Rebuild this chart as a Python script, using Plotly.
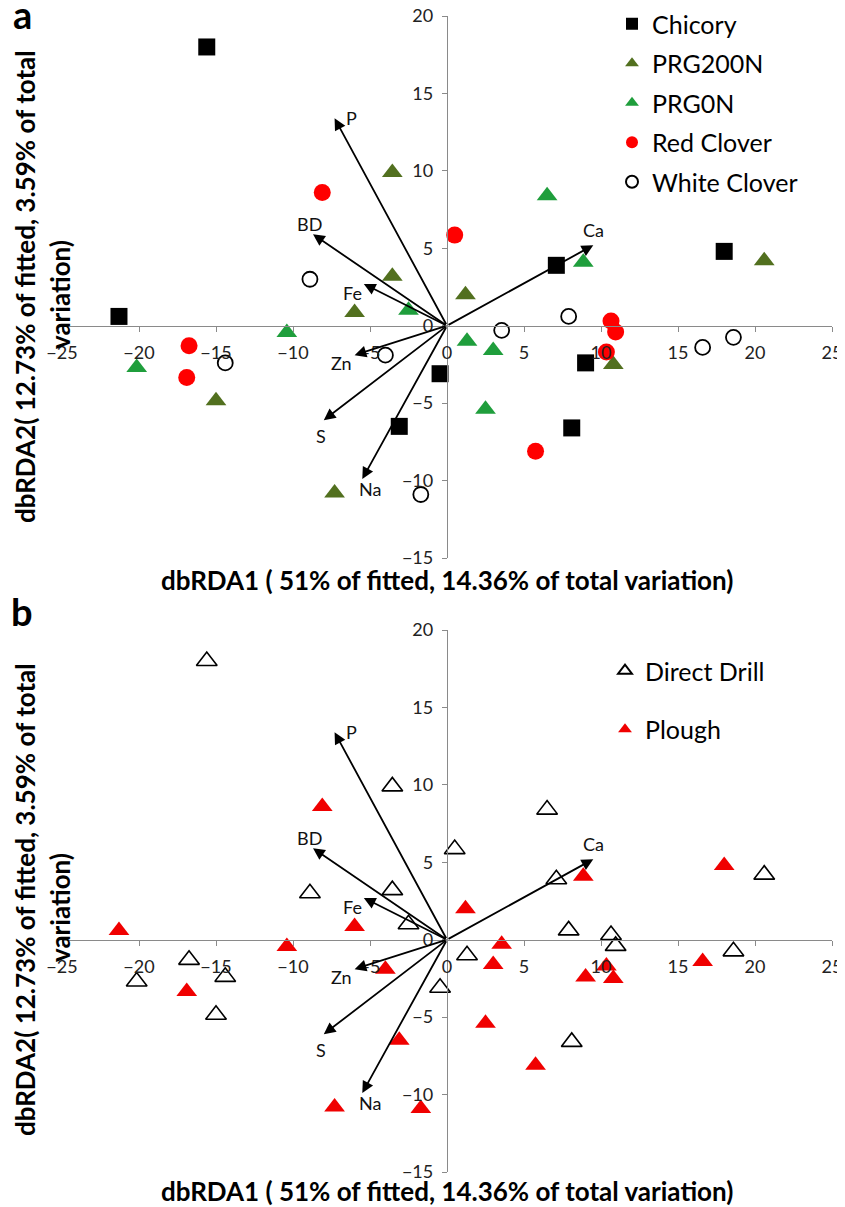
import plotly.graph_objects as go

# ---------------- data ----------------
chicory_x = [-15.6, 7.1, 18.0, -21.3, -0.45, -3.1, 9.0, 8.1]
chicory_y = [18.0, 3.9, 4.8, 0.6, -3.1, -6.5, -2.4, -6.6]
chicory_till = ["DD", "DD", "P", "P", "DD", "P", "P", "DD"]

prg200n_x = [-3.55, -3.55, 20.6, 1.2, -15.0, -6.0, -7.3, 10.8]
prg200n_y = [9.9, 3.2, 4.2, 2.0, -4.85, 0.85, -10.8, -2.5]
prg200n_till = ["DD", "DD", "DD", "P", "DD", "P", "P", "P"]

prg0n_x = [6.5, 8.85, -20.15, -10.4, -2.5, 1.3, 3.0, 2.5]
prg0n_y = [8.4, 4.1, -2.7, -0.44, 1.0, -1.0, -1.6, -5.4]
prg0n_till = ["DD", "P", "DD", "P", "DD", "DD", "P", "P"]

redclover_x = [-8.1, 0.5, -16.75, -16.9, 10.65, 10.95, 10.35, 5.75]
redclover_y = [8.6, 5.85, -1.3, -3.35, 0.3, -0.4, -1.7, -8.1]
redclover_till = ["P", "DD", "DD", "P", "DD", "DD", "P", "P"]

whiteclover_x = [-8.9, -14.4, -4.0, -1.7, 7.9, 3.55, 16.6, 18.6]
whiteclover_y = [3.0, -2.4, -1.9, -10.9, 0.6, -0.3, -1.4, -0.75]
whiteclover_till = ["DD", "DD", "P", "P", "DD", "P", "P", "DD"]

vector_names = ["P", "BD", "Fe", "Zn", "S", "Na", "Ca"]
vector_x = [-7.3, -8.7, -5.4, -6.0, -8.0, -5.5, 9.5]
vector_y = [13.4, 5.9, 2.7, -1.9, -6.1, -9.9, 5.2]

tick_vals_x = [-25, -20, -15, -10, -5, 0, 5, 10, 15, 20, 25]
tick_vals_y = [-15, -10, -5, 0, 5, 10, 15, 20]

x_title = "dbRDA1 ( 51% of fitted, 14.36% of total variation)"
y_title_1 = "dbRDA2( 12.73% of fitted, 3.59% of total"
y_title_2 = "variation)"

# ---------------- styles ----------------
FONT = "Lato"
OFF = 8                      # default page (body) margin of the html page
W, H = 845 - OFF, 1207 - OFF
# reference pixel geometry (page coordinates)
PLOT_L, PLOT_R = 62, 832
A_TOP, A_BOT = 16, 558
B_TOP, B_BOT = 630, 1172
ML, MR, MT, MB = PLOT_L - OFF, 845 - PLOT_R, A_TOP - OFF, 1207 - B_BOT
PH = H - MT - MB
PW = W - ML - MR


def py(page_y):
    return (B_BOT - page_y) / PH


def pxx(page_x):
    return (page_x - PLOT_L) / PW


dom_a = [py(A_BOT), 1.0]
dom_b = [0.0, py(B_TOP)]

groups = [
    ("Chicory", chicory_x, chicory_y, chicory_till, dict(symbol="square", color="black", size=17)),
    ("PRG200N", prg200n_x, prg200n_y, prg200n_till, dict(symbol="triangle-up", color="#52701f", size=18)),
    ("PRG0N", prg0n_x, prg0n_y, prg0n_till, dict(symbol="triangle-up", color="#1f9e3c", size=18)),
    ("Red Clover", redclover_x, redclover_y, redclover_till, dict(symbol="circle", color="#ff0000", size=17)),
    ("White Clover", whiteclover_x, whiteclover_y, whiteclover_till,
     dict(symbol="circle-open", color="black", size=15, line=dict(width=1.8, color="black"))),
]

# label offsets (px) relative to arrow tip
label_shift = {"P": (17, 0), "BD": (-4, 10), "Fe": (-11, -9), "Zn": (-13, -8),
               "S": (-3, -16), "Na": (8, -10), "Ca": (0, 15)}

fig = go.Figure()

for name, gx, gy, gt, mk in groups:
    fig.add_trace(go.Scatter(x=gx, y=gy, mode="markers", name=name, marker=mk,
                             xaxis="x", yaxis="y", legend="legend", legendgroup=name))

all_x, all_y, all_t = [], [], []
for name, gx, gy, gt, mk in groups:
    all_x += gx
    all_y += gy
    all_t += gt

dd_x = [x for x, t in zip(all_x, all_t) if t == "DD"]
dd_y = [y for y, t in zip(all_y, all_t) if t == "DD"]
pl_x = [x for x, t in zip(all_x, all_t) if t == "P"]
pl_y = [y for y, t in zip(all_y, all_t) if t == "P"]

fig.add_trace(go.Scatter(x=dd_x, y=dd_y, mode="markers", name="Direct Drill",
                         marker=dict(symbol="triangle-up-open", color="black", size=18,
                                     line=dict(width=1.6, color="black")),
                         xaxis="x2", yaxis="y2", legend="legend2", legendgroup="dd"))
fig.add_trace(go.Scatter(x=pl_x, y=pl_y, mode="markers", name="Plough",
                         marker=dict(symbol="triangle-up", color="#f00000", size=18),
                         xaxis="x2", yaxis="y2", legend="legend2", legendgroup="pl"))

annotations = []
for xr, yr in (("x", "y"), ("x2", "y2")):
    for n, vx, vy in zip(vector_names, vector_x, vector_y):
        annotations.append(dict(x=vx, y=vy, ax=0, ay=0, xref=xr, yref=yr, axref=xr, ayref=yr,
                                text="", showarrow=True, arrowhead=2, arrowsize=1.3,
                                arrowwidth=1.8, arrowcolor="black"))
        dx, dy = label_shift[n]
        annotations.append(dict(x=vx, y=vy, xref=xr, yref=yr, text=n, showarrow=False,
                                xshift=dx, yshift=dy, font=dict(family=FONT, size=18, color="#111")))

title_font = dict(family=FONT, size=26, color="black", weight="bold")
for ya, xa_y, lab, lab_y in ((287, 580, "a", 14), (900, 1191, "b", 611)):
    annotations.append(dict(x=pxx(25), y=py(ya), xref="paper", yref="paper", text=y_title_1,
                            textangle=-90, showarrow=False, font=title_font,
                            xanchor="center", yanchor="middle"))
    annotations.append(dict(x=pxx(60), y=py(ya + 8), xref="paper", yref="paper", text=y_title_2,
                            textangle=-90, showarrow=False, font=title_font,
                            xanchor="center", yanchor="middle"))
    annotations.append(dict(x=0.5, y=py(xa_y), xref="paper", yref="paper", text=x_title,
                            showarrow=False, font=title_font, xanchor="center", yanchor="middle"))
    annotations.append(dict(x=pxx(22), y=py(lab_y), xref="paper", yref="paper", text=lab,
                            showarrow=False, font=dict(family=FONT, size=38, color="black", weight="bold"),
                            xanchor="center", yanchor="middle"))

axis_common = dict(showgrid=False, zeroline=False, showline=True, linecolor="#8a8a8a", linewidth=1.3,
                   ticks="outside", ticklen=5, tickcolor="#8a8a8a", tickwidth=1.3, automargin=False,
                   ticklabeloverflow="allow",
                   tickfont=dict(family=FONT, size=18, color="#222"), fixedrange=True)

fig.update_layout(
    width=W, height=H, margin=dict(l=ML, r=MR, t=MT, b=MB, autoexpand=False),
    paper_bgcolor="white", plot_bgcolor="white",
    xaxis=dict(range=[-25, 25], tickvals=tick_vals_x, anchor="free", ticklabelstandoff=6,
               position=dom_a[0] + (dom_a[1] - dom_a[0]) * 15 / 35, domain=[0, 1], **axis_common),
    yaxis=dict(range=[-15, 20], tickvals=tick_vals_y, anchor="free", position=0.5, ticklabelstandoff=5,
               domain=dom_a, **axis_common),
    xaxis2=dict(range=[-25, 25], tickvals=tick_vals_x, anchor="free", ticklabelstandoff=6,
                position=dom_b[0] + (dom_b[1] - dom_b[0]) * 15 / 35, domain=[0, 1], **axis_common),
    yaxis2=dict(range=[-15, 20], tickvals=tick_vals_y, anchor="free", position=0.5, ticklabelstandoff=5,
                domain=dom_b, **axis_common),
    legend=dict(x=pxx(612), y=py(1), xanchor="left", yanchor="top", bgcolor="rgba(0,0,0,0)",
                font=dict(family=FONT, size=25, color="black"), tracegroupgap=4,
                itemsizing="constant"),
    legend2=dict(x=pxx(605), y=py(648), xanchor="left", yanchor="top", bgcolor="rgba(0,0,0,0)",
                 font=dict(family=FONT, size=25, color="black"), tracegroupgap=23,
                 itemsizing="constant"),
    annotations=annotations,
    showlegend=True,
)

fig.write_html("out.html")
